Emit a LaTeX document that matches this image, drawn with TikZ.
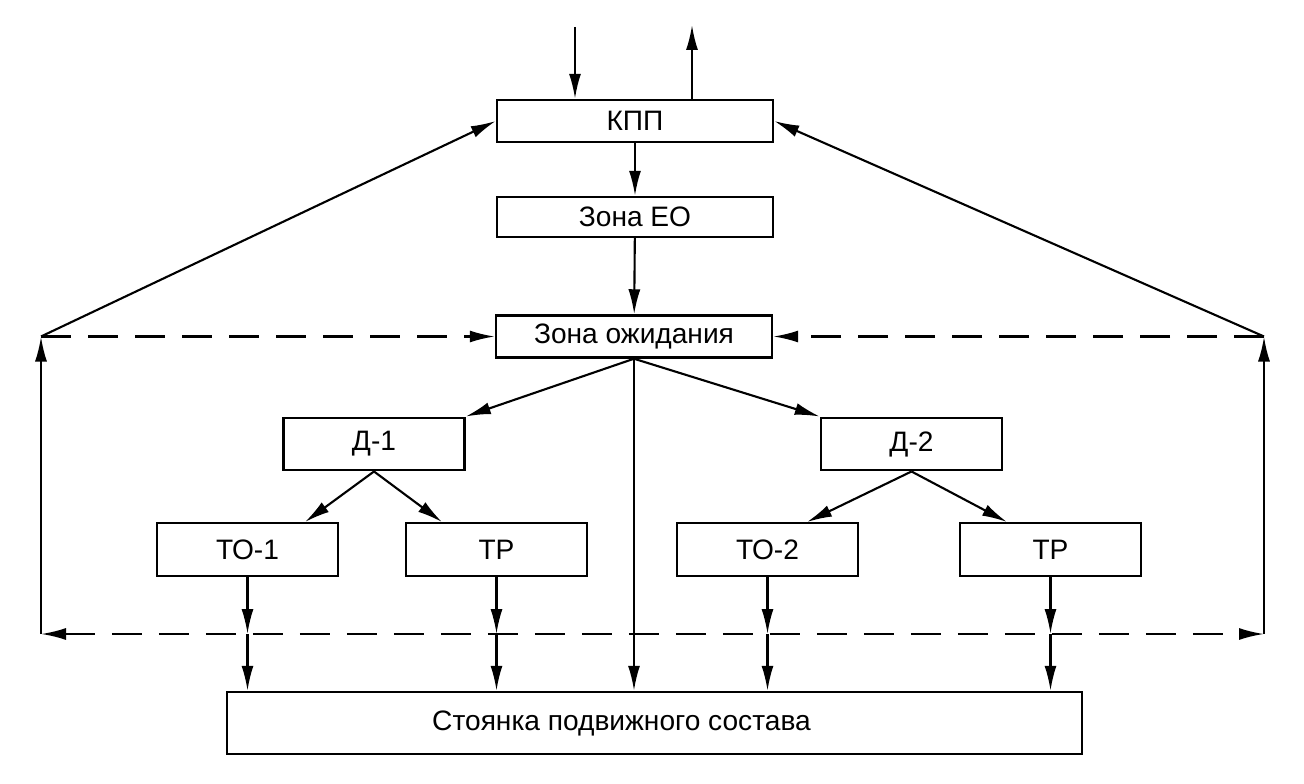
\documentclass[tikz,border=0pt]{standalone}
\usepackage{fontspec}
\setmainfont{Liberation Sans}
\usetikzlibrary{arrows.meta}

\begin{document}
\begin{tikzpicture} \tikzset{% This is the style settings for nodes
        zone/.style={rectangle,draw,line width=1.4pt,minimum width=5.52cm,minimum height=0.84cm,inner sep=0pt,
        font=\fontsize{16}{19}\selectfont}, work/.style={zone,minimum width=3.62cm,minimum height=1.05cm},
        >={Latex[length=0.5cm,width=0.24cm]},
        c1/.style={->,line width=1.2pt},
        c2/.style={c1,dash pattern=on 0.6cm off 0.34cm},
        }
        \useasboundingbox (0,0) rectangle (26.08,15.66);
        % Nodes
        \node[zone] (kpp) at (12.70,13.24) {КПП}; \node[zone,minimum height=0.80cm] (eo) at (12.70,11.32) {Зона ЕО};
        \node[zone] (wait) at (12.68,8.93) {Зона ожидания};
        \node[work] (d1) at (7.48,6.78) {Д-1}; \node[work] (d2) at (18.23,6.78) {Д-2};
        \node[work] (to1) at (4.95,4.67) {ТО-1}; \node[work] (tr1) at (9.93,4.67) {ТР};
        \node[work] (to2) at (15.35,4.67) {ТО-2}; \node[work] (tr2) at (21.01,4.67) {ТР};
        \node[zone,minimum width=17.10cm,minimum height=1.24cm] (park) at (13.09,1.20) {Стоянка подвижного состава\kern1.32cm};
        \coordinate (lt) at (0.82,8.93); \coordinate (rt) at (25.28,8.93);
        \coordinate (lb) at (0.82,2.98); \coordinate (rb) at (25.28,2.98);
        \coordinate (in) at (11.50,15.12); \coordinate (out) at (13.84,15.16);
        %Edges
        \draw[c1] (in) -- (in |- kpp.north); \draw[c1] (out |- kpp.north) -- (out);
        \draw[c1] (kpp) -- (eo); \draw[c1] (eo) -- (wait);
        \draw[c1] (wait.south) -- (d1.north east); \draw[c1] (wait.south) -- (d2.north west);
        \draw[c1] (wait.south) -- (wait.south |- park.north);
        \draw[c1] (d1.south) -- ([xshift=1.15cm]to1.north); \draw[c1] (d1.south) -- ([xshift=-1.09cm]tr1.north);
        \draw[c1] (d2.south) -- ([xshift=0.79cm]to2.north); \draw[c1] (d2.south) -- ([xshift=-0.87cm]tr2.north);
        \draw[c1] (to1) -- (to1 |- lb); \draw[c1] (to1 |- lb) -- (to1 |- park.north);
        \draw[c1] (tr1) -- (tr1 |- lb); \draw[c1] (tr1 |- lb) -- (tr1 |- park.north);
        \draw[c1] (to2) -- (to2 |- lb); \draw[c1] (to2 |- lb) -- (to2 |- park.north);
        \draw[c1] (tr2) -- (tr2 |- lb); \draw[c1] (tr2 |- lb) -- (tr2 |- park.north);
        \draw[c1] (lb) -- (lt); \draw[c1] (rb) -- (rt);
        \draw[c1] (lt) -- (kpp.west); \draw[c1] (rt) -- (kpp.east);
        \draw[c2] (lt) -- (wait); \draw[c2] (rt) -- (wait);
        \draw[c2,<->] (lb) -- (rb);
\end{tikzpicture}
\end{document}
